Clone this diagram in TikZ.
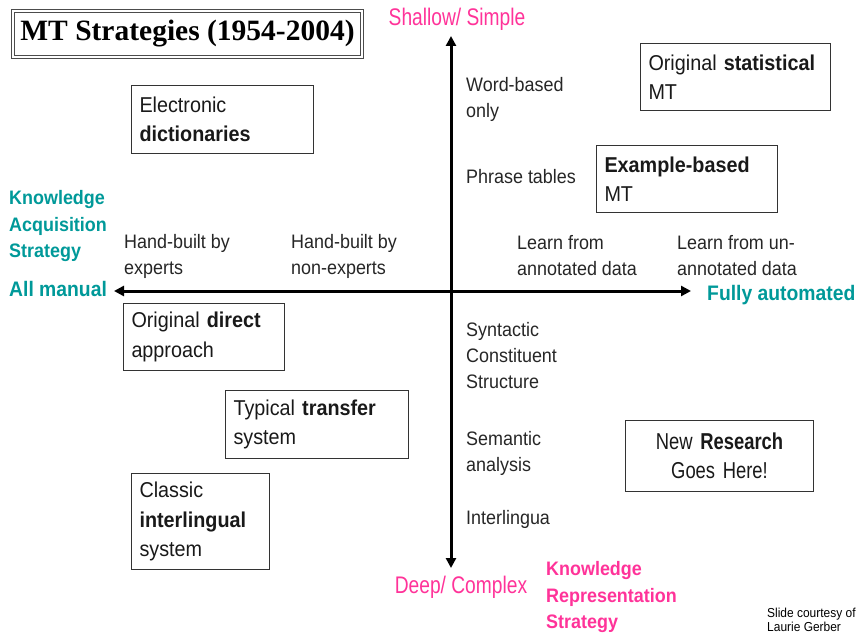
\documentclass[tikz,border=0pt]{standalone}
\usepackage{fontspec}
\setmainfont[FakeStretch=0.92]{Liberation Sans}
\newfontfamily\titlefont{Liberation Serif}
\newfontfamily\narrowfont[FakeStretch=0.8]{Liberation Sans}
\usetikzlibrary{arrows.meta}
\definecolor{shallowpink}{RGB}{255,51,153}
\definecolor{autoteal}{RGB}{0,153,153}

\begin{document}
\begin{tikzpicture}[x=1pt,y=-1pt,
  box/.style={draw=black!80,line width=1pt,anchor=north west,inner xsep=7pt,inner ysep=0pt,
    align=left,font=\fontsize{21.5}{29.5}\selectfont,text=black!90},
  lbl/.style={anchor=west,inner sep=0pt,align=left,font=\fontsize{19.5}{26}\selectfont,text=black!85},
  pinklbl/.style={inner sep=0pt,text=shallowpink,font=\narrowfont\fontsize{24}{28}\selectfont},
  pinkbold/.style={anchor=west,inner sep=0pt,align=left,text=shallowpink,font=\bfseries\fontsize{19.5}{26.5}\selectfont},
  tealbold/.style={anchor=west,inner sep=0pt,align=left,text=autoteal,font=\bfseries\fontsize{19.5}{26.5}\selectfont},
  axis/.style={line width=3pt,{Triangle[length=10pt,width=10pt]}-{Triangle[length=10pt,width=10pt]}}]
\useasboundingbox (0,0) rectangle (860,634);
\node[draw=black!70,double=white,double distance=2pt,line width=1.4pt,minimum width=349pt,minimum height=46pt,
  font=\titlefont\bfseries\fontsize{29.5}{31}\selectfont] (title) at (187.5,34) {MT Strategies (1954-2004)};
\coordinate (top) at (451,36);
\coordinate (bottom) at (451,568);
\coordinate (left) at (114,291);
\coordinate (right) at (691,291);
\draw[axis] (left) -- (right);
\draw[axis] (top) -- (bottom);
\node[pinklbl] (shallow) at (457,19) {Shallow/ Simple};
\node[pinklbl] (deep) at (461,587) {Deep/ Complex};
\node[pinkbold] (krs) at (546,597) {Knowledge\\Representation\\Strategy};
\node[tealbold] (kas) at (9,226) {Knowledge\\Acquisition\\Strategy};
\node[tealbold,font=\bfseries\fontsize{21}{24}\selectfont] (manual) at (9,289) {All manual};
\node[tealbold,font=\bfseries\fontsize{21}{24}\selectfont] (auto) at (707,295) {Fully automated};
\node[lbl] (word) at (466,99) {Word-based\\only};
\node[lbl] (phrase) at (466,177) {Phrase tables};
\node[lbl] (expert) at (124,256) {Hand-built by\\experts};
\node[lbl] (nonexpert) at (291,256) {Hand-built by\\non-experts};
\node[lbl] (annot) at (517,256) {Learn from\\annotated data};
\node[lbl] (unannot) at (677,256) {Learn from un-\\annotated data};
\node[lbl] (syntax) at (466,356) {Syntactic\\Constituent\\Structure};
\node[lbl] (semantic) at (466,453) {Semantic\\analysis};
\node[lbl] (inter) at (466,519) {Interlingua};
\node[lbl,font=\fontsize{13}{14.5}\selectfont,text=black] (courtesy) at (767,620) {Slide courtesy of\\Laurie Gerber};
\node[box,minimum width=182pt,minimum height=68pt,text width=166pt] (elec) at (131,85) {Electronic\\\textbf{dictionaries}};
\node[box,minimum width=190pt,minimum height=67pt,text width=174pt] (stat) at (640,43) {Original \textbf{statistical}\\MT};
\node[box,minimum width=181pt,minimum height=67pt,text width=165pt] (example) at (596,145) {\textbf{Example-based}\\MT};
\node[box,minimum width=161pt,minimum height=67pt,text width=145pt] (direct) at (123,303) {Original \textbf{direct}\\approach};
\node[box,minimum width=183pt,minimum height=68pt,text width=167pt] (transfer) at (225,390) {Typical \textbf{transfer}\\system};
\node[box,minimum width=138pt,minimum height=96pt,text width=122pt] (interl) at (131,473) {Classic\\\textbf{interlingual}\\system};
\node[box,minimum width=188pt,minimum height=71pt,text width=172pt,align=center,
  font=\narrowfont\fontsize{23}{29}\selectfont] (research) at (625,420) {New \textbf{Research}\\Goes Here!};
\end{tikzpicture}
\end{document}
